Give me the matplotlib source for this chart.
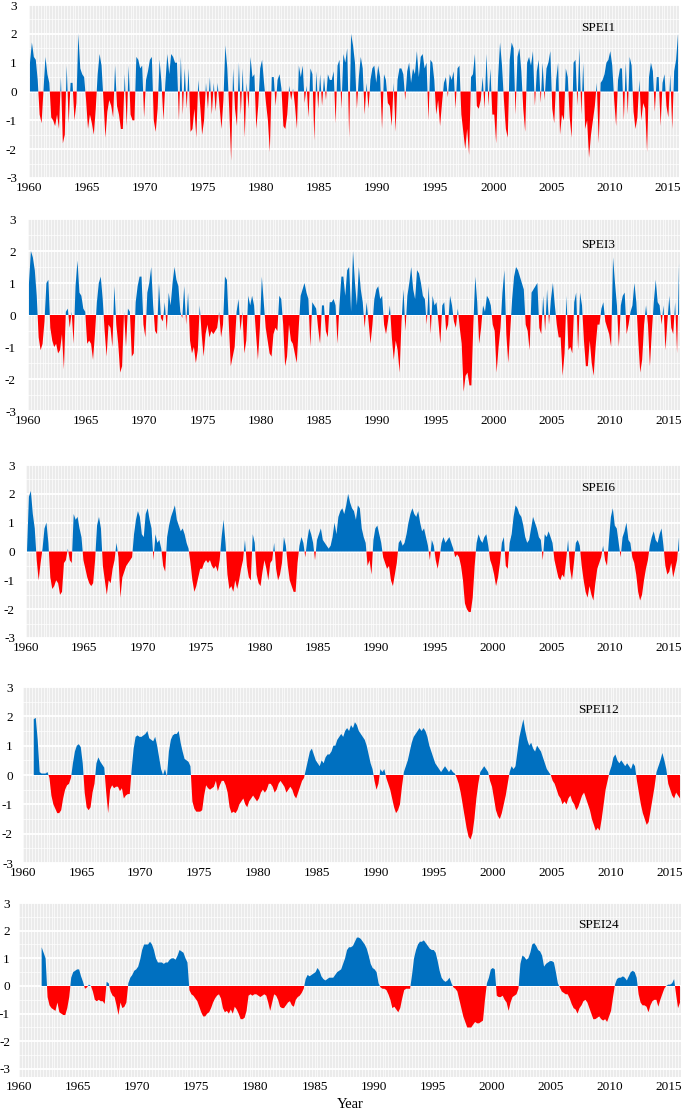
import numpy as np
import matplotlib.pyplot as plt

plt.rcParams['font.family'] = ['Liberation Serif', 'DejaVu Serif']
plt.rcParams['axes.unicode_minus'] = False

# six two-monthly values per year, 1960-2015
start_year = 1960
per_year = 6

spei1 = [
    1.0, 1.7, 1.2, 1.1, 0.4, -0.8,   # 1960
    -1.1, 0.05, 1.2, 0.6, 0.3, -0.9,
    -1.0, -1.2, -0.8, -1.3, 0.5, -1.8,
    -1.5, 0.9, -1.1, 0.3, 0.3, -1.0,
    -0.4, 2.0, 0.8, 0.6, 0.5, -0.3,
    -1.3, -0.8, -1.1, -1.5, -0.6, 0.6,   # 1965
    1.3, 0.9, -0.3, -1.6, -0.7, -0.3,
    -0.5, -0.9, 0.9, -0.5, -0.8, -1.3,
    -1.3, 0.6, -1.2, 0.9, -0.8, -1.0,
    -1.0, 1.2, 1.1, 0.8, 0.9, -0.9,
    0.4, 0.7, 1.1, 1.2, -1.0, -1.4,   # 1970
    -0.6, 1.1, 0.3, -1.0, 0.3, 1.3,
    0.6, 1.3, 1.2, 1.0, 1.0, -1.0,
    1.2, -0.8, 0.8, -0.6, 0.8, -1.4,
    -1.3, -0.6, -1.6, 0.4, -0.5, -1.5,
    -1.0, 0.3, -0.6, 0.5, -0.8, 0.3,   # 1975
    -0.7, 0.3, -0.5, -1.3, -0.3, 1.6,
    0.8, -0.6, -2.4, 0.8, -0.6, -1.2,
    1.0, -0.8, 0.8, -1.6, 0.3, -0.6,
    1.2, 0.5, 0.6, -1.3, -0.5, 0.8,
    1.1, 0.3, -0.4, -1.0, -2.1, 0.5,   # 1980
    0.5, -0.5, 0.4, 0.6, 0.1, -1.2,
    -1.3, -0.8, 0.2, -0.3, 0.1, -0.5,
    -1.3, 0.9, 0.5, 0.9, -0.4, 0.2,
    -0.9, 0.8, 0.6, -1.7, 0.7, -0.6,
    0.6, -0.5, 0.5, -0.3, 0.6, 0.4,   # 1985
    0.4, 0.7, -1.1, 0.9, 1.1, -0.6,
    1.3, 1.0, 1.5, -1.6, 2.0, 1.6,
    1.0, -0.6, 0.5, 1.2, 0.8, -0.8,
    0.3, -0.6, 0.4, 0.8, 0.9, 0.3,
    0.9, 0.5, -1.3, 0.6, 0.4, -0.4,   # 1990
    -0.5, -1.2, 0.3, -1.4, 0.4, 0.8,
    0.8, 0.6, -0.3, 0.7, 1.0, 0.3,
    0.8, 0.6, 1.4, 0.5, 1.2, 1.3,
    0.8, 1.0, -1.0, 1.1, 1.0, 0.4,
    -0.8, -0.3, -1.2, -0.4, 0.3, 0.5,   # 1995
    -0.2, 0.6, 0.4, 0.7, -0.6, 0.8,
    0.9, -0.8, -1.4, -2.0, -1.3, -2.2,
    0.5, 0.6, 1.3, -0.5, -0.6, -0.3,
    0.5, -0.6, 1.3, -0.5, 0.8, -0.8,
    -0.8, -1.8, 0.5, 1.7, 0.9, -0.3,   # 2000
    -1.3, -1.6, 1.1, 1.7, 1.5, -0.8,
    1.2, 1.5, 0.7, -0.6, -1.4, 1.0,
    1.2, 0.9, 1.4, -0.5, 0.7, 1.1,
    -0.4, 1.0, -0.3, 0.8, 1.0, 1.4,
    -0.6, -1.1, 0.4, 1.0, -1.5, -0.8,   # 2005
    -1.0, 0.8, 0.5, -0.9, -1.6, 1.0,
    1.1, -0.5, 1.5, -0.8, 1.0, -1.3,
    -1.0, -2.3, -1.5, -1.0, -0.5, 0.3,
    -1.8, 0.3, 0.4, 0.6, 1.0, 1.1,
    1.4, 0.9, -0.3, -1.2, 0.4, 0.8,   # 2010
    0.8, -1.0, 1.0, -0.8, 1.2, 0.9,
    -0.7, -1.3, -0.9, 0.4, -1.0, -0.4,
    -0.6, -2.1, 0.5, 1.0, 0.7, -0.7,
    0.5, 0.5, -1.2, 0.3, 0.6, -0.5,
    -0.9, 0.6, -1.3, 0.7, 1.1, 2.0,   # 2015
]

spei3 = [
    1.0, 2.0, 1.8, 1.4, 0.6, -0.7,   # 1960
    -1.1, -0.9, -0.2, 1.0, 1.1, -0.4,
    -0.8, -1.0, -0.9, -1.2, -1.1, -0.6,
    -1.7, 0.1, 0.2, -0.4, 0.1, -0.9,
    0.9, 1.7, 0.7, 0.6, 0.2, 0.1,
    -0.9, -0.8, -0.9, -1.4, -0.6, 0.4,   # 1965
    1.0, 1.2, 0.5, -0.5, -1.3, -0.3,
    -0.4, -1.0, 0.9, -0.3, -0.9, -1.8,
    -1.6, 0.1, -1.0, 0.2, 0.1, -1.3,
    -1.2, 0.4, 0.9, 1.2, 1.2, -0.3,
    -0.7, 0.7, 1.0, 1.5, 0.3, -0.5,   # 1970
    -0.6, 1.0, -0.1, -0.2, 0.4, -0.5,
    0.7, 0.3, 1.0, 1.5, 1.1, 0.9,
    0.1, -0.1, 0.9, -0.3, 0.7, -0.8,
    -1.2, -1.0, -1.5, -1.1, 0.3, -0.6,
    -1.3, -0.6, -0.3, -0.7, -0.5, -0.6,   # 1975
    -0.5, -0.4, 0.1, -0.7, -0.3, 1.2,
    1.1, -0.3, -1.6, -1.3, -1.0, 0.1,
    0.5, -0.5, 0.1, -1.2, -0.8, 0.6,
    0.3, 0.6, 0.3, -0.6, -1.4, -0.4,
    1.2, 0.4, -0.4, -0.8, -1.2, -1.3,   # 1980
    -0.6, -0.4, -0.5, 0.6, 0.5, -0.3,
    -1.6, -1.3, -0.3, -0.8, -0.9, -1.2,
    -1.5, -0.4, 0.6, 0.8, 1.0, 0.7,
    0.5, -1.0, 0.4, 0.3, 0.2, -0.4,
    -0.9, 0.3, 0.3, -0.5, -0.7, 0.4,   # 1985
    0.4, 0.5, 0.3, -0.9, 0.3, 1.2,
    1.2, 0.6, 1.4, 1.5, 0.1, 2.0,
    1.0, 0.3, 1.5, 0.8, 0.4, -0.4,
    0.4, -0.2, -0.9, -0.3, 0.5, 0.8,
    0.9, 0.5, 0.6, -0.3, -0.6, -0.2,   # 1990
    0.3, -0.7, -1.4, -0.8, -1.1, -1.8,
    -0.2, 0.8, -0.5, 0.6, 1.0, 1.5,
    0.8, 0.5, 1.4, 1.3, 1.0, 0.6,
    0.5, -0.3, 0.9, -0.6, 0.6, 0.3,
    0.4, -0.2, -0.9, 0.3, 0.4, -0.5,   # 1995
    -0.3, 0.6, 0.3, -0.2, -0.4, 0.2,
    -0.4, -0.9, -2.4, -1.9, -1.8, -2.2,
    -2.2, -0.3, 1.2, 0.4, -0.9, -0.4,
    0.3, 0.1, 0.6, 0.5, 0.3, -0.3,
    -0.5, -1.8, -1.0, -0.4, 0.7, 1.4,   # 2000
    -0.6, -1.5, -0.5, 0.5, 1.2, 1.5,
    1.4, 1.2, 1.0, 0.8, -0.3, -0.5,
    -1.1, 0.7, 0.8, 0.9, 1.0, -0.4,
    -0.6, 0.6, -0.5, 0.8, -0.3, 0.5,
    1.0, 0.3, -0.3, -0.7, -0.7, -1.9,   # 2005
    -1.2, 0.6, -1.1, -1.0, -1.2, 0.4,
    0.7, -1.1, 0.7, 0.3, -0.8, -1.6,
    -1.6, -0.8, -1.5, -1.9, -1.0, -0.3,
    -0.3, 0.2, 0.4, -0.2, -0.4, -0.6,
    -1.0, 1.8, 1.0, 0.3, -1.0, 0.3,   # 2010
    0.6, 0.7, -0.6, -0.3, 0.1, 0.3,
    1.0, 0.4, -0.8, -1.8, -1.4, -0.3,
    0.3, -0.3, -1.6, -0.5, 0.4, 1.1,
    0.4, 0.3, -0.3, 0.3, -1.1, -0.2,
    0.6, -0.4, -0.6, 0.4, -1.2, 1.6,   # 2015
]

spei6 = [
    -0.02, 1.9, 2.1, 1.3, 0.8, -0.3,   # 1960
    -1.0, -0.4, 0.1, 0.8, 1.0, 0.3,
    -0.9, -1.3, -1.2, -1.0, -1.1, -1.5,
    -1.4, -0.4, -0.3, 0.1, -0.3, -0.4,
    1.3, 1.1, 1.2, 0.8, 0.5, -0.3,
    -0.6, -0.9, -1.1, -1.2, -1.1, -0.3,   # 1965
    0.9, 1.2, 0.8, -0.5, -1.0, -1.5,
    -1.0, -1.1, -0.6, -0.3, 0.3, -0.2,
    -1.6, -0.9, -0.7, -0.5, -0.4, -0.3,
    -0.2, 0.6, 1.1, 1.4, 1.2, 0.6,
    0.5, 1.3, 1.5, 1.1, 0.8, -0.3,   # 1970
    0.6, 0.3, 0.4, 0.1, -0.5, -0.7,
    0.5, 0.9, 1.2, 1.4, 1.6, 1.1,
    0.9, 0.7, 0.8, 0.6, 0.3, 0.1,
    -0.4, -1.0, -1.4, -1.2, -0.9, -0.6,
    -0.6, -0.4, -0.3, -0.4, -0.3, -0.5,   # 1975
    -0.6, -0.5, -0.7, -0.3, 0.5, 1.1,
    0.3, -0.8, -1.3, -1.2, -1.4, -1.0,
    -1.3, -1.0, -0.6, -0.3, 0.4, -0.5,
    -0.9, -1.0, 0.6, 0.3, -0.8, -1.1,
    -1.2, -0.7, -0.3, -0.6, -1.0, -0.4,   # 1980
    -0.3, 0.3, -0.6, -1.0, -0.8, -0.4,
    0.5, 0.2, -0.5, -1.0, -1.2, -1.4,
    -1.4, -0.4, 0.2, 0.5, 0.3, -0.2,
    0.4, 0.8, 0.6, 0.3, -0.3, 0.4,
    0.6, 0.8, 0.4, 0.3, 0.2, 0.1,   # 1985
    0.2, 0.5, 1.0, 0.6, 1.2, 1.4,
    1.5, 1.3, 1.6, 2.0, 1.7, 1.5,
    1.4, 1.1, 1.6, 1.5, 0.8, 0.5,
    0.3, -0.5, -0.3, -0.8, 0.4, 0.8,
    0.9, 0.6, 0.3, -0.2, -0.4, -0.6,   # 1990
    -0.5, -1.0, -1.2, -0.8, -0.4, 0.3,
    0.4, 0.2, 0.3, 0.6, 1.0, 1.3,
    1.5, 1.3, 1.2, 1.4, 1.0, 0.7,
    0.8, 0.5, 0.2, -0.3, 0.4, 0.2,
    -0.3, -0.6, -0.2, 0.3, 0.5, 0.3,   # 1995
    0.4, 0.5, 0.3, 0.1, -0.2, -0.1,
    -0.2, -0.5, -1.0, -1.8, -2.0, -2.1,
    -2.1, -1.6, -0.5, 0.3, 0.6, 0.4,
    0.3, 0.5, 0.6, 0.2, -0.3, -0.5,
    -0.8, -1.2, -0.9, -0.4, 0.3, 0.5,   # 2000
    -0.5, -0.6, 0.3, 0.6, 1.2, 1.6,
    1.5, 1.3, 1.2, 0.9, 0.5, 0.3,
    0.4, 0.8, 1.2, 1.0, 0.8, 0.5,
    0.4, -0.3, 0.6, 0.5, 0.7, 0.5,
    0.3, -0.3, -0.6, -0.9, -1.0, -0.8,   # 2005
    -0.9, -0.3, 0.4, -0.6, -1.0, -0.4,
    0.3, 0.4, 0.2, -0.5, -1.0, -1.4,
    -1.6, -1.2, -1.5, -1.7, -1.1, -0.6,
    -0.4, -0.2, 0.2, -0.3, -0.5, 0.4,
    1.2, 1.5, 0.9, 0.8, 0.3, -0.2,   # 2010
    0.5, 0.7, 1.0, 0.4, 0.3, -0.2,
    -0.4, -0.8, -1.4, -1.7, -1.5, -1.0,
    -0.6, -0.3, 0.2, 0.5, 0.7, 0.4,
    0.3, 0.6, 0.8, 0.2, -0.5, -0.8,
    -0.7, -0.4, -0.9, -0.6, -0.3, 0.5,   # 2015
]

nan = np.nan
spei12 = [
    nan, nan, nan, nan, nan, 1.9,   # 1960
    1.95, 1.2, 0.1, 0.05, 0.05, 0.05,
    0.1, -0.1, -0.7, -1.0, -1.15, -1.3,
    -1.3, -1.2, -0.8, -0.5, -0.35, -0.3,
    -0.1, 0.4, 0.8, 1.0, 1.05, 0.95,
    0.4, -0.6, -1.1, -1.2, -1.1, -0.6,   # 1965
    -0.3, 0.4, 0.6, 0.45, 0.35, 0.25,
    -0.6, -1.3, -0.5, -0.35, -0.45, -0.4,
    -0.4, -0.55, -0.45, -0.8, -0.7, -0.65,
    -0.65, 0.2, 0.9, 1.3, 1.35, 1.3,
    1.3, 1.35, 1.4, 1.5, 1.25, 1.2,   # 1970
    1.15, 1.3, 1.0, 0.6, 0.2, 0.0,
    0.2, -0.05, 0.8, 1.2, 1.35, 1.4,
    1.4, 1.5, 1.1, 0.8, 0.55, 0.5,
    0.45, 0.3, -0.9, -1.15, -1.25, -1.25,
    -1.25, -1.2, -0.7, -0.35, -0.45, -0.5,   # 1975
    -0.45, -0.4, -0.2, -0.55, -0.35, -0.2,
    -0.2, -0.35, -0.6, -1.1, -1.3, -1.25,
    -1.3, -1.2, -1.0, -0.9, -0.8, -1.0,
    -1.1, -0.9, -0.8, -0.7, -0.8, -0.9,
    -0.8, -0.6, -0.5, -0.6, -0.5, -0.3,   # 1980
    -0.3, -0.4, -0.6, -0.5, -0.3, -0.2,
    -0.3, -0.4, -0.6, -0.5, -0.4, -0.5,
    -0.7, -0.8, -0.6, -0.4, -0.2, -0.1,
    0.2, 0.5, 0.8, 0.9, 0.7, 0.5,
    0.4, 0.3, 0.5, 0.4, 0.6, 0.7,   # 1985
    0.7, 0.8, 1.0, 1.0, 1.2, 1.3,
    1.4, 1.3, 1.5, 1.6, 1.5, 1.7,
    1.6, 1.8, 1.7, 1.5, 1.4, 1.3,
    1.2, 1.0, 0.7, 0.4, 0.2, -0.2,
    -0.5, -0.3, 0.2, 0.1, 0.2, -0.1,   # 1990
    -0.3, -0.5, -0.8, -1.1, -1.3, -1.2,
    -1.0, -0.4, 0.1, 0.3, 0.5, 0.8,
    1.1, 1.3, 1.4, 1.5, 1.6, 1.5,
    1.6, 1.5, 1.3, 1.0, 0.8, 0.6,
    0.4, 0.3, 0.2, 0.1, 0.2, 0.3,   # 1995
    0.2, 0.1, 0.2, 0.1, 0.05, -0.1,
    -0.3, -0.6, -1.0, -1.4, -1.8, -2.1,
    -2.2, -2.0, -1.5, -0.8, -0.3, 0.1,
    0.2, 0.3, 0.2, 0.1, -0.2, -0.4,
    -0.8, -1.2, -1.4, -1.5, -1.3, -1.0,   # 2000
    -0.7, -0.3, 0.1, 0.3, 0.2, 0.3,
    0.8, 1.3, 1.6, 1.9, 1.5, 1.2,
    1.0, 1.1, 0.9, 0.8, 1.0, 0.9,
    0.8, 0.6, 0.4, 0.2, 0.1, 0.0,
    -0.2, -0.3, -0.5, -0.7, -0.8, -1.0,   # 2005
    -0.9, -1.0, -0.8, -0.7, -0.9, -1.0,
    -1.2, -1.1, -0.9, -0.7, -0.6, -0.8,
    -1.0, -1.2, -1.5, -1.7, -1.9, -1.8,
    -1.9, -1.5, -1.0, -0.5, -0.2, 0.1,
    0.3, 0.6, 0.7, 0.5, 0.4, 0.5,   # 2010
    0.4, 0.3, 0.4, 0.3, 0.2, 0.4,
    0.3, -0.2, -0.6, -1.0, -1.3, -1.5,
    -1.7, -1.6, -1.2, -0.8, -0.4, 0.1,
    0.3, 0.5, 0.75, 0.5, 0.2, -0.3,
    -0.5, -0.7, -0.8, -0.6, -0.7, -0.8,   # 2015
]

spei24 = [
    nan, nan, nan, nan, nan, nan,   # 1960
    nan, nan, nan, nan, nan, 1.4,
    1.2, 1.0, -0.4, -0.7, -0.8, -0.85,
    -0.9, -0.6, -0.95, -1.0, -1.05, -1.05,
    -0.8, -0.4, 0.3, 0.5, 0.55, 0.6,
    0.6, 0.35, 0.15, -0.1, -0.05, 0.05,   # 1965
    0.0, -0.2, -0.5, -0.55, -0.5, -0.55,
    -0.55, -0.65, 0.15, 0.1, -0.2, -0.35,
    -0.4, -0.7, -1.05, -0.6, -0.8, -0.75,
    -0.6, 0.1, 0.3, 0.4, 0.55, 0.6,
    0.7, 0.95, 1.3, 1.5, 1.5, 1.5,   # 1970
    1.6, 1.5, 1.3, 1.0, 0.85, 0.85,
    0.85, 0.8, 0.85, 0.85, 0.95, 1.0,
    1.0, 0.95, 1.1, 1.3, 1.25, 1.2,
    1.0, 0.85, -0.15, -0.3, -0.35, -0.45,
    -0.55, -0.75, -0.95, -1.1, -1.1, -1.0,   # 1975
    -0.95, -0.8, -0.6, -0.45, -0.35, -0.3,
    -0.45, -0.8, -0.95, -0.9, -1.0, -0.85,
    -1.0, -0.75, -0.85, -1.0, -1.2, -1.2,
    -1.15, -0.9, -0.35, -0.3, -0.35, -0.3,
    -0.3, -0.35, -0.4, -0.35, -0.3, -0.35,   # 1980
    -0.6, -0.9, -0.6, -0.3, -0.35, -0.5,
    -0.75, -0.8, -0.8, -0.7, -0.6, -0.55,
    -0.7, -0.75, -0.5, -0.4, -0.35, -0.25,
    -0.1, 0.25, 0.4, 0.35, 0.4, 0.45,
    0.5, 0.65, 0.55, 0.35, 0.25, 0.2,   # 1985
    0.25, 0.3, 0.3, 0.3, 0.4, 0.5,
    0.55, 0.6, 0.8, 1.0, 1.3, 1.4,
    1.4, 1.45, 1.6, 1.75, 1.75, 1.7,
    1.6, 1.5, 1.35, 1.1, 0.8, 0.65,
    0.6, 0.5, 0.1, -0.05, -0.1, -0.1,   # 1990
    -0.15, -0.3, -0.5, -0.8, -0.75, -0.85,
    -0.95, -0.8, -0.45, -0.15, -0.1, -0.1,
    -0.1, 0.4, 1.0, 1.3, 1.5, 1.6,
    1.6, 1.65, 1.55, 1.45, 1.35, 1.3,
    1.3, 1.2, 0.9, 0.55, 0.3, 0.2,   # 1995
    0.15, 0.2, 0.3, 0.1, -0.05, -0.1,
    -0.2, -0.5, -0.8, -1.1, -1.3, -1.5,
    -1.5, -1.5, -1.4, -1.3, -1.35, -1.35,
    -1.3, -1.25, -0.5, 0.1, 0.3, 0.6,
    0.65, 0.6, -0.35, -0.4, -0.4, -0.35,   # 2000
    -0.5, -0.6, -0.9, -0.6, -0.4, -0.35,
    -0.3, -0.1, 0.8, 1.1, 1.05, 0.95,
    1.0, 1.2, 1.5, 1.55, 1.45, 1.3,
    1.25, 1.1, 0.7, 0.8, 0.85, 0.9,
    0.9, 0.85, 0.5, 0.1, -0.05, -0.2,   # 2005
    -0.25, -0.3, -0.3, -0.45, -0.65, -0.8,
    -0.85, -1.0, -0.8, -0.7, -0.55, -0.5,
    -0.6, -0.8, -1.0, -1.2, -1.2, -1.15,
    -1.1, -1.2, -1.25, -1.2, -1.3, -1.1,
    -0.9, -0.4, 0.05, 0.25, 0.3, 0.3,   # 2010
    0.35, 0.3, 0.2, 0.35, 0.5, 0.55,
    0.5, 0.3, -0.3, -0.6, -0.7, -0.7,
    -0.75, -0.95, -0.7, -0.55, -0.5, -0.5,
    -0.75, -0.5, -0.3, -0.1, 0.0, 0.05,
    0.05, 0.1, 0.25, -0.3, -0.8, -0.6,   # 2015
]

names = ['SPEI1', 'SPEI3', 'SPEI6', 'SPEI12', 'SPEI24']
series = [spei1, spei3, spei6, spei12, spei24]

# axes boxes in pixels: left, right, top, bottom, y-label gap, lower y limit
boxes = [(29, 679, 5, 178, 12, -3), (28, 680, 219, 411, 12, -3),
         (26, 680, 465, 638, 11, -3), (23, 681, 687, 863, 10, -3),
         (19, 681, 903, 1077, 9, -3.29)]

W, H = 685, 1113
fig = plt.figure(figsize=(W / 100, H / 100), dpi=100)

blue = '#0070C0'
red = '#FF0000'

for name, vals, (l, r, t, b, gap, ylow) in zip(names, series, boxes):
    ax = fig.add_axes([l / W, 1 - b / H, (r - l) / W, (b - t) / H])
    v = np.array(vals, dtype=float)
    x = start_year + (np.arange(len(v)) + 0.5) / per_year

    ax.set_facecolor('#ebebeb')
    ax.fill_between(x, v, 0, where=v >= 0, interpolate=True,
                    color=blue, linewidth=0, zorder=3)
    ax.fill_between(x, v, 0, where=v <= 0, interpolate=True,
                    color=red, linewidth=0, zorder=3)

    ax.set_xlim(1960, 2016)
    ax.set_ylim(ylow, 3)
    ax.set_xticks(np.arange(1960, 2016, 5))
    ax.set_xticks(np.arange(1960, 2016.01, 0.25), minor=True)
    ax.set_yticks(np.arange(-3, 4))
    ax.set_yticks(np.arange(-2.5, 3, 1.0), minor=True)
    ax.set_axisbelow(True)
    ax.grid(axis='x', which='both', color='white', linewidth=0.5)
    ax.grid(axis='y', which='major', color='white', linewidth=1.3)
    ax.grid(axis='y', which='minor', color='white', linewidth=0.6, alpha=0.8)
    ax.tick_params(which='both', length=0, labelsize=9.5)
    ax.tick_params(axis='y', pad=gap * 0.72)
    ax.tick_params(axis='x', pad=3)
    for s in ax.spines.values():
        s.set_visible(False)

    ax.text(0.875, 2.2, name, transform=ax.get_yaxis_transform(),
            ha='center', va='center', fontsize=9.5)

fig.text(0.511, 1 - 1105 / H, 'Year', ha='center', va='center', fontsize=10.5)

fig.savefig('out.png', dpi=100)
